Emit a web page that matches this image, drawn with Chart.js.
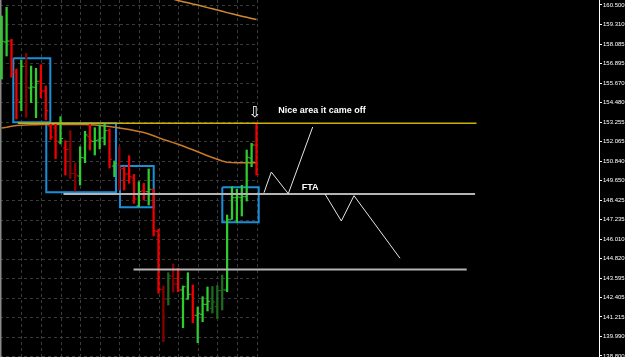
<!DOCTYPE html>
<html><head><meta charset="utf-8">
<script src="https://cdn.jsdelivr.net/npm/chart.js@4.4.1/dist/chart.umd.min.js"></script>
<style>html,body{margin:0;padding:0;background:#000;overflow:hidden}canvas{display:block}</style>
</head><body><canvas id="c" width="625" height="357"></canvas>
<script>
// ---- data (prices) ----
const open  = [157.100,158.212,158.274,156.358,154.503,156.710,155.368,155.412,155.783,155.183,153.019,152.896,152.030,151.659,151.597,150.083,149.928,151.041,152.358,152.061,152.154,152.277,152.729,150.546,150.608,150.392,150.052,149.804,148.073,149.019,148.957,149.106,146.509,142.923,142.324,143.746,143.251,142.880,142.324,142.614,141.316,141.378,141.996,141.749,141.848,142.837,142.880,147.251,148.586,148.586,148.648,151.041,151.845];
const high  = [159.820,160.358,158.379,156.543,157.100,157.514,156.729,156.586,156.809,155.492,153.143,153.174,153.594,152.110,152.729,150.732,151.739,152.692,153.143,152.914,153.081,153.124,152.834,150.855,151.739,150.503,151.183,150.033,149.576,149.477,150.361,149.106,146.633,143.127,143.950,144.487,144.222,143.127,143.950,143.189,141.829,142.466,143.066,143.096,143.158,143.807,147.517,149.266,149.106,149.353,151.535,151.950,153.223];
const low   = [155.925,157.347,156.030,153.452,153.965,153.557,154.460,153.532,154.769,153.390,152.185,150.998,151.906,149.990,149.786,149.001,149.372,150.750,151.535,151.226,151.597,151.845,150.423,149.885,149.062,149.062,149.477,148.240,148.030,148.444,148.135,146.219,142.676,139.684,141.953,142.756,142.775,140.549,142.305,140.858,139.622,140.920,141.582,141.458,141.118,141.644,142.775,147.251,147.066,147.455,148.382,150.503,149.990];
const close = [158.256,158.274,156.358,154.627,156.710,155.412,155.430,155.783,155.183,153.965,152.339,152.092,152.246,151.566,150.083,149.990,151.072,152.463,152.123,152.123,152.277,152.729,150.960,150.701,150.392,150.052,149.885,148.506,148.957,148.957,149.106,146.528,142.923,142.324,143.746,143.251,142.880,143.084,142.614,141.316,141.439,141.996,142.181,142.138,142.837,142.880,147.251,148.586,148.630,148.648,151.084,151.845,150.033];
const fadedBars = [5,14,15,24,33,34,35,43,44,45];
const maSlow = [152.896,152.939,153.001,153.050,153.069,153.081,153.093,153.100,153.106,153.112,153.112,153.118,153.118,153.118,153.118,153.112,153.112,153.106,153.100,153.081,153.050,153.019,152.982,152.939,152.896,152.846,152.797,152.741,152.673,152.611,152.525,152.413,152.302,152.185,152.092,151.993,151.894,151.783,151.659,151.548,151.430,151.307,151.183,151.072,150.960,150.855,150.781,150.757,150.750,150.750,150.750,150.750,150.750];
const maFastFirstBar = 33;
const maFast = [161.030,160.933,160.858,160.778,160.704,160.636,160.562,160.500,160.420,160.339,160.265,160.191,160.110,160.030,159.956,159.882,159.807,159.739,159.671,159.603];
const tickValues = [160.5,159.31,158.085,156.895,155.67,154.48,153.255,152.065,150.84,149.65,148.425,147.235,146.01,144.82,143.595,142.405,141.215,139.99,138.8];
const tickLabels = ['160.500','159.310','158.085','156.895','155.670','154.480','153.255','152.065','150.840','149.650','148.425','147.235','146.010','144.820','143.595','142.405','141.215','139.990','138.800'];
// boxes: [fromBar, toBar, topPrice, bottomPrice]
const boxes = [[2.37,9.92,157.205,153.248],[9.10,23.33,153.186,148.920],[24.14,31.02,150.546,147.993],[45.02,52.45,149.229,147.066]];
// horizontal levels: [price, fromBar, toBar]
const levelYellow = [153.190, 3.3, 96.9];
const levelFTA    = [148.815, 12.6, 96.6];
const levelLow    = [144.147, 26.9, 94.9];
// drawn projection paths: [bar, price]
const pathUp   = [[53.53,148.896],[55.02,150.175],[58.49,148.834],[63.47,152.957]];
const pathDown = [[65.98,148.815],[69.31,147.146],[71.90,148.710],[81.29,144.840]];
// text notes: [text, bar, price]
const notes = [['Nice area it came off',56.45,153.965],['FTA',61.22,149.229]];
const arrowNote = ['\u21E9',51.7,153.823];
const xMin = -0.347, xMax = 121.898, yMin = 138.738, yMax = 160.809;
const gridEveryBars = 4, lastBar = open.length - 1;

// ---- styles ----
const GREEN='#2ecc2e', RED='#f00000', DKGREEN='#1f6a1f', DKRED='#8a0000';
const barColor = i => {
  const up = close[i] >= open[i], f = fadedBars.includes(i);
  return up ? (f ? DKGREEN : GREEN) : (f ? DKRED : RED);
};
const bars = open.map((_, i) => i);

const lineDs = (data, color, width, order) => ({type:'line', data, borderColor:color, borderWidth:width, pointRadius:0, tension:0, fill:false, order});
const datasets = [];
boxes.forEach(b => datasets.push(lineDs([{x:b[0],y:b[2]},{x:b[1],y:b[2]},{x:b[1],y:b[3]},{x:b[0],y:b[3]},{x:b[0],y:b[2]}], '#1a8fd8', 2, 20)));
datasets.push(lineDs(maSlow.map((v,i)=>({x:i,y:v})), '#c87a2c', 1.5, 19));
datasets.push(lineDs(maFast.map((v,i)=>({x:i+maFastFirstBar,y:v})), '#d08a30', 1.5, 19));
datasets.push({type:'bar', data: bars.map(i=>({x:i,y:[low[i],high[i]]})), backgroundColor: c=>barColor(c.dataIndex), barThickness:1.6, borderWidth:0, order:15});
datasets.push({type:'line', showLine:false, data: bars.map(i=>({x:i-0.26,y:open[i]})), pointStyle:'line', pointRadius:1.3, pointBorderWidth:1, pointBorderColor:c=>barColor(c.dataIndex), order:14});
datasets.push({type:'line', showLine:false, data: bars.map(i=>({x:i+0.26,y:close[i]})), pointStyle:'line', pointRadius:1.3, pointBorderWidth:1, pointBorderColor:c=>barColor(c.dataIndex), order:14});
datasets.push(lineDs([{x:levelYellow[1],y:levelYellow[0]},{x:levelYellow[2],y:levelYellow[0]}], '#c9b300', 1.5, 10));
datasets.push(lineDs([{x:levelFTA[1],y:levelFTA[0]},{x:levelFTA[2],y:levelFTA[0]}], '#b4b4b4', 2, 10));
datasets.push(lineDs([{x:levelLow[1],y:levelLow[0]},{x:levelLow[2],y:levelLow[0]}], '#b4b4b4', 2, 10));
datasets.push(lineDs(pathUp.map(p=>({x:p[0],y:p[1]})), '#e6e6e6', 1, 5));
datasets.push(lineDs(pathDown.map(p=>({x:p[0],y:p[1]})), '#e6e6e6', 1, 5));

const gridPlugin = {
  id:'mtgrid',
  beforeDatasetsDraw(chart){
    const {ctx, chartArea:a, scales:{x,y}} = chart;
    ctx.save();
    ctx.strokeStyle='#3a3a3a'; ctx.lineWidth=1; ctx.setLineDash([3,3]);
    const xe = x.getPixelForValue(lastBar);
    tickValues.forEach(v=>{const py=Math.round(y.getPixelForValue(v))+0.5; ctx.beginPath(); ctx.moveTo(a.left,py); ctx.lineTo(xe,py); ctx.stroke();});
    for(let b=gridEveryBars;b<=lastBar;b+=gridEveryBars){const px=Math.round(x.getPixelForValue(b))+0.5; ctx.beginPath(); ctx.moveTo(px,a.top); ctx.lineTo(px,a.bottom); ctx.stroke();}
    ctx.setLineDash([]);
    ctx.strokeStyle='#8a8a8a'; ctx.lineWidth=1.5;
    ctx.beginPath(); ctx.moveTo(a.left+0.75,a.top); ctx.lineTo(a.left+0.75,a.bottom); ctx.stroke();
    ctx.restore();
  },
  afterDatasetsDraw(chart){
    const {ctx, scales:{x,y}} = chart;
    ctx.save();
    ctx.fillStyle='#ffffff'; ctx.textBaseline='middle'; ctx.textAlign='left';
    ctx.font='bold 9px "Liberation Sans", Arial, sans-serif';
    notes.forEach(n=>ctx.fillText(n[0], x.getPixelForValue(n[1]), y.getPixelForValue(n[2])));
    ctx.textAlign='center';
    ctx.font='15px "DejaVu Sans", sans-serif';
    ctx.fillText(arrowNote[0], x.getPixelForValue(arrowNote[1]), y.getPixelForValue(arrowNote[2]));
    ctx.restore();
  }
};

new Chart(document.getElementById('c'), {
  type:'bar',
  data:{datasets},
  options:{
    responsive:false, animation:false, devicePixelRatio:1,
    layout:{padding:0, autoPadding:false},
    plugins:{legend:{display:false}, tooltip:{enabled:false}},
    events:[],
    scales:{
      x:{type:'linear', min:xMin, max:xMax, display:false, offset:false, grid:{display:false}},
      y:{type:'linear', position:'right', min:yMin, max:yMax,
         afterBuildTicks: s => { s.ticks = tickValues.map(v=>({value:v})); },
         afterFit: s => { s.width = 26; s.paddingTop = 0; s.paddingBottom = 0; },
         grid:{drawOnChartArea:false, drawTicks:true, tickLength:3, color:'#ffffff'},
         border:{display:true, color:'#ffffff', width:1},
         ticks:{autoSkip:false, padding:1, color:'#ffffff', font:{family:'"Liberation Sans", Arial, sans-serif', size:6},
                callback:(v,i)=>tickLabels[i]}
      }
    }
  },
  plugins:[gridPlugin]
});
</script>
</body></html>
